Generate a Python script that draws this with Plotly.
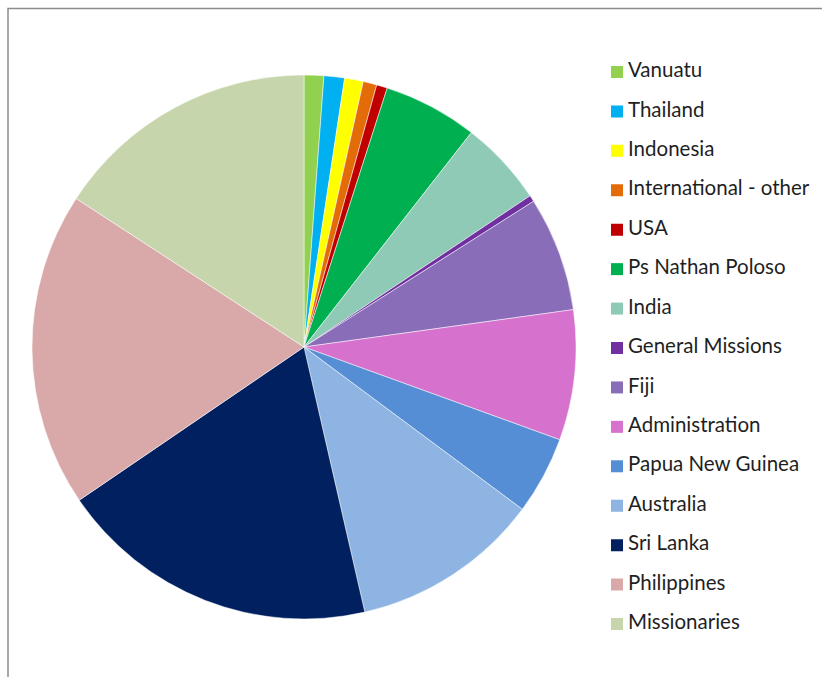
import plotly.graph_objects as go

W, H = 822, 677

labels = ["Vanuatu", "Thailand", "Indonesia", "International - other", "USA",
          "Ps Nathan Poloso", "India", "General Missions", "Fiji", "Administration",
          "Papua New Guinea", "Australia", "Sri Lanka", "Philippines", "Missionaries"]
values = [1.17, 1.22, 1.11, 0.81, 0.64, 5.60, 5.07, 0.38, 6.81, 7.73,
          4.64, 11.24, 19.07, 18.72, 15.81]
colors = ["#92D050", "#00B0F0", "#FFFF00", "#E36C09", "#C00000",
          "#00B050", "#8ECAB6", "#7030A0", "#8A6DB9", "#D672CE",
          "#558ED5", "#8EB4E3", "#002060", "#D9A9A9", "#C6D5AC"]

fig = go.Figure()

# pie: centre (304,347), radius 272
fig.add_trace(go.Pie(
    labels=labels, values=values, sort=False, direction="clockwise", rotation=0,
    marker=dict(colors=colors, line=dict(color="white", width=0.5)),
    textinfo="none", hoverinfo="label+percent", showlegend=False,
    domain=dict(x=[32 / W, 576 / W], y=[1 - 619 / H, 1 - 75 / H]),
))

# custom legend drawn on its own axes
idx = list(range(len(labels)))
fig.add_trace(go.Scatter(
    x=[617] * len(labels), y=idx, mode="markers",
    marker=dict(symbol="square", size=12, color=colors, line=dict(width=0)),
    xaxis="x", yaxis="y", showlegend=False, hoverinfo="skip",
))
fig.add_trace(go.Scatter(
    x=[628] * len(labels), y=idx, mode="text", text=labels,
    textposition="middle right",
    textfont=dict(family="Lato, Open Sans, sans-serif", size=20.5, color="#1f1f1f"),
    xaxis="x", yaxis="y", showlegend=False, hoverinfo="skip",
))

row0, rowN = 72, 624
step = (rowN - row0) / (len(labels) - 1)
top_px = row0 - step / 2
bot_px = rowN + step / 2

fig.update_layout(
    width=W, height=H,
    margin=dict(l=0, r=0, t=0, b=0),
    paper_bgcolor="white", plot_bgcolor="rgba(0,0,0,0)",
    xaxis=dict(domain=[0, 1], range=[0, W], visible=False, fixedrange=True),
    yaxis=dict(domain=[1 - bot_px / H, 1 - top_px / H],
               range=[len(labels) - 0.5, -0.5], visible=False, fixedrange=True),
    shapes=[dict(type="rect", xref="paper", yref="paper",
                 x0=8 / W, x1=1.05, y0=-0.05, y1=1 - 8.5 / H,
                 line=dict(color="#8C8C8C", width=1.5), fillcolor="rgba(0,0,0,0)",
                 layer="below")],
)

fig.write_html("out.html",
               config={"displayModeBar": False},
               post_script="document.body.style.margin='0';document.body.style.overflow='hidden';")
